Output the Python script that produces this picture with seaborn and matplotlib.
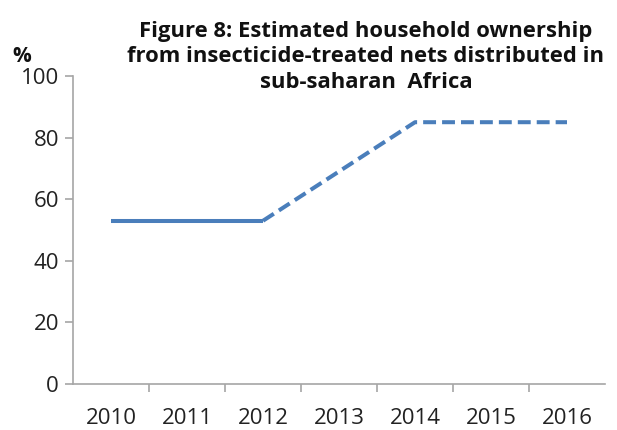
import pandas as pd
import matplotlib
matplotlib.use("Agg")
import matplotlib.pyplot as plt
import seaborn as sns

years = [2010, 2011, 2012, 2013, 2014, 2015, 2016]
ownership = [53, 53, 53, 69, 85, 85, 85]
status = ["Estimated", "Estimated", "Estimated", "Projected", "Projected", "Projected", "Projected"]
title = "Figure 8: Estimated household ownership\nfrom insecticide-treated nets distributed in\nsub-saharan  Africa"

# the projection starts from the last estimated point
df_est = pd.DataFrame({"year": years[:3], "value": ownership[:3]})
df_proj = pd.DataFrame({"year": years[2:], "value": ownership[2:]})

sns.set_style("white")
plt.rcParams["font.family"] = ["Open Sans", "DejaVu Sans"]

fig = plt.figure(figsize=(6.17, 4.30), dpi=100)
ax = fig.add_axes([73 / 617, 1 - 384 / 430, 532 / 617, 308 / 430])

line_color = "#4A7EBB"
sns.lineplot(data=df_est, x="year", y="value", ax=ax, color=line_color, linewidth=2.9,
             solid_capstyle="butt")
sns.lineplot(data=df_proj, x="year", y="value", ax=ax, color=line_color, linewidth=2.9)
ax.lines[-1].set_dashes((3.2, 1.5))

ax.set_xlim(2009.5, 2016.5)
ax.set_ylim(0, 100)
ax.set_yticks(range(0, 101, 20))
ax.set_xticks(years)
ax.set_xticks([y + 0.5 for y in years[:-1]], minor=True)
ax.set_xlabel("")
ax.set_ylabel("")

axis_gray = "#A6A6A6"
for side in ["top", "right"]:
    ax.spines[side].set_visible(False)
for side in ["left", "bottom"]:
    ax.spines[side].set_color(axis_gray)
    ax.spines[side].set_linewidth(1.2)

ax.tick_params(axis="y", which="major", left=True, length=6, width=1.2, color=axis_gray,
               labelsize=16, labelcolor="#222222", pad=4)
ax.tick_params(axis="x", which="major", bottom=False, labelsize=16, labelcolor="#222222", pad=14)
ax.tick_params(axis="x", which="minor", bottom=True, length=6, width=1.2, color=axis_gray)

fig.text(22 / 617, 1 - 57 / 430, "%", fontsize=15, fontweight="bold", ha="center", va="center",
         color="#111111")
fig.text(366 / 617, 1 - 21 / 430, title, fontsize=15.8, fontweight="bold", ha="center", va="top",
         linespacing=1.27, color="#111111")

fig.savefig("out.png", dpi=100)
